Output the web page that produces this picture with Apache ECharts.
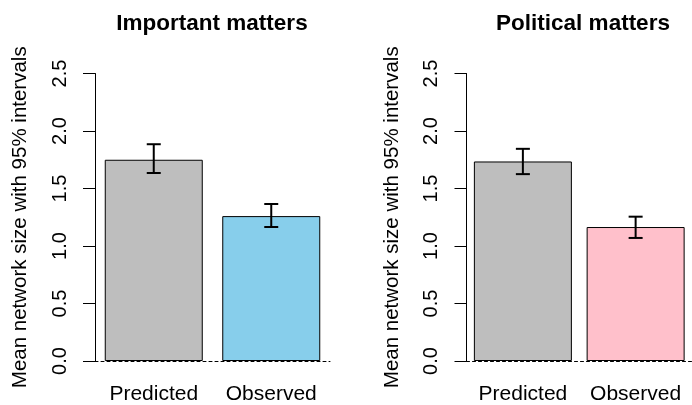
<!DOCTYPE html>
<html>
<head>
<meta charset="utf-8">
<script src="https://cdn.jsdelivr.net/npm/echarts@6/dist/echarts.min.js"></script>
<style>
  html, body { margin: 0; padding: 0; background: #ffffff; }
  #chart { width: 692px; height: 405px; }
</style>
</head>
<body>
<div id="chart"></div>
<script>
// Mean network size, predicted vs observed, with 95% intervals
const categories = ['Predicted', 'Observed'];
const panelTitles = ['Important matters', 'Political matters'];
const yTicks = [0, 0.5, 1.0, 1.5, 2.0, 2.5];

const importantMeans = [1.75, 1.26];
const importantLower = [1.635, 1.165];
const importantUpper = [1.885, 1.365];

const politicalMeans = [1.735, 1.165];
const politicalLower = [1.625, 1.07];
const politicalUpper = [1.845, 1.255];

const importantColors = ['#BEBEBE', '#87CEEB'];
const politicalColors = ['#BEBEBE', '#FFC0CB'];

const FONT = 'Liberation Sans, Arial, Helvetica, sans-serif';
const yName = 'Mean network size with 95% intervals';

const chart = echarts.init(document.getElementById('chart'), null, { renderer: 'canvas' });

function barData(values, colors) {
  return values.map((v, i) => ({ value: v, itemStyle: { color: colors[i] } }));
}

function errorData(lower, upper) {
  return categories.map((c, i) => [i, lower[i], upper[i]]);
}

function renderError(params, api) {
  const x = api.value(0);
  const lo = api.coord([x, api.value(1)]);
  const hi = api.coord([x, api.value(2)]);
  const half = 7;
  const style = { stroke: '#000', lineWidth: 2, fill: null };
  return {
    type: 'group',
    children: [
      { type: 'line', shape: { x1: lo[0], y1: lo[1], x2: hi[0], y2: hi[1] }, style },
      { type: 'line', shape: { x1: lo[0] - half, y1: lo[1], x2: lo[0] + half, y2: lo[1] }, style },
      { type: 'line', shape: { x1: hi[0] - half, y1: hi[1], x2: hi[0] + half, y2: hi[1] }, style }
    ]
  };
}

function xAxisFor(gridIndex) {
  return {
    type: 'category',
    gridIndex,
    data: categories,
    z: 5,
    axisLine: { show: true, lineStyle: { color: '#000', width: 1, type: [3, 3] } },
    axisTick: { show: false },
    axisLabel: { color: '#000', fontSize: 21, fontFamily: FONT, margin: 23, interval: 0 }
  };
}

function yAxisFor(gridIndex) {
  return {
    type: 'value',
    gridIndex,
    min: 0,
    max: 2.5,
    interval: 0.5,
    name: yName,
    nameLocation: 'middle',
    nameRotate: 90,
    nameGap: 64,
    nameTextStyle: { color: '#000', fontSize: 20.5, fontFamily: FONT },
    axisLine: { show: true, lineStyle: { color: '#000', width: 1 } },
    axisTick: { show: true, length: 12, lineStyle: { color: '#000', width: 1 } },
    axisLabel: {
      color: '#000', fontSize: 20, fontFamily: FONT, rotate: 90, margin: 25,
      formatter: v => v.toFixed(1)
    },
    splitLine: { show: false }
  };
}

const option = {
  backgroundColor: '#ffffff',
  animation: false,
  title: [
    { text: panelTitles[0], left: 207, top: 7, textAlign: 'center',
      textStyle: { fontSize: 22.5, fontWeight: 'bold', color: '#000', fontFamily: FONT } },
    { text: panelTitles[1], left: 578, top: 7, textAlign: 'center',
      textStyle: { fontSize: 22.5, fontWeight: 'bold', color: '#000', fontFamily: FONT } }
  ],
  grid: [
    { left: 95, top: 73.5, width: 235, bottom: 43.5 },
    { left: 466.5, top: 73.5, width: 235, bottom: 43.5 }
  ],
  xAxis: [xAxisFor(0), xAxisFor(1)],
  yAxis: [yAxisFor(0), yAxisFor(1)],
  series: [
    {
      type: 'bar', xAxisIndex: 0, yAxisIndex: 0, barWidth: 98,
      data: barData(importantMeans, importantColors),
      itemStyle: { borderColor: '#000', borderWidth: 1 }
    },
    {
      type: 'custom', xAxisIndex: 0, yAxisIndex: 0, z: 6,
      renderItem: renderError, data: errorData(importantLower, importantUpper)
    },
    {
      type: 'bar', xAxisIndex: 1, yAxisIndex: 1, barWidth: 98,
      data: barData(politicalMeans, politicalColors),
      itemStyle: { borderColor: '#000', borderWidth: 1 }
    },
    {
      type: 'custom', xAxisIndex: 1, yAxisIndex: 1, z: 6,
      renderItem: renderError, data: errorData(politicalLower, politicalUpper)
    }
  ]
};

chart.setOption(option);
</script>
</body>
</html>
